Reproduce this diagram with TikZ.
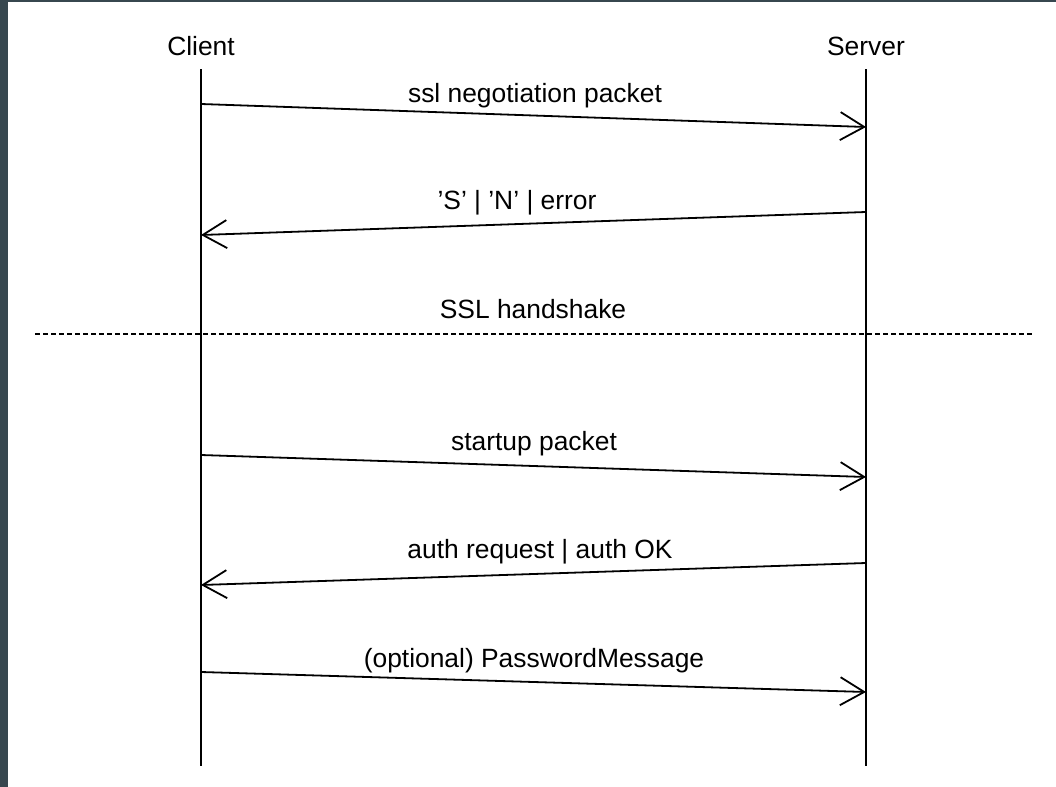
\documentclass[tikz,border=0pt]{standalone}
\usepackage{fontspec}
\setmainfont{Liberation Sans}
\usetikzlibrary{arrows.meta}
\definecolor{frame}{HTML}{37474F}

\begin{document}
\begin{tikzpicture}[x=0.5pt,y=-0.5pt,
	every node/.style={font=\fontsize{13.2}{16}\selectfont, inner sep=0pt},
	life/.style={line width=1pt},
	msg/.style={line width=0.9pt, -{Straight Barb[length=12pt,width=14pt,line width=0.9pt]}},
	sep/.style={line width=0.6pt, dash pattern=on 2.5pt off 1.5pt}]
		\useasboundingbox (0,0) rectangle (1056,787);
		\fill[white] (0,0) rectangle (1056,787);
		\fill[frame] (0,0) rectangle (8,787);
		\fill[frame] (0,0) rectangle (1056,2);
		% the two parties and their lifelines
		\node(client) at (201,46) {Client};
		\node(server) at (866,46) {Server};
		\coordinate(cend) at (201,766);
		\coordinate(send) at (866,766);
		\draw[life] (201,69) -- (cend);
		\draw[life] (866,69) -- (send);
		% message ends on the lifelines
		\coordinate(c1) at (201,104);   \coordinate(s1) at (866,127);
		\coordinate(s2) at (866,212);   \coordinate(c2) at (201,235);
		\coordinate(c3) at (201,455);   \coordinate(s3) at (866,477);
		\coordinate(s4) at (866,563);   \coordinate(c4) at (201,585);
		\coordinate(c5) at (201,672);   \coordinate(s5) at (866,692);
		\draw[msg] (c1) -- (s1);
		\draw[msg] (s2) -- (c2);
		\draw[msg] (c3) -- (s3);
		\draw[msg] (s4) -- (c4);
		\draw[msg] (c5) -- (s5);
		\node(ssl) at (535,96) {ssl negotiation packet};
		\node(reply) at (517,203) {'S' | 'N' | error};
		\node(hs) at (533,309) {SSL handshake};
		\node(startup) at (534,444) {startup packet};
		\node(auth) at (540,552) {auth request | auth OK};
		\node(pwd) at (534,661) {(optional) PasswordMessage};
		% handshake divider
		\coordinate(dl) at (35,334);
		\coordinate(dr) at (1033,334);
		\draw[sep] (dl) -- (dr);
\end{tikzpicture}
\end{document}
